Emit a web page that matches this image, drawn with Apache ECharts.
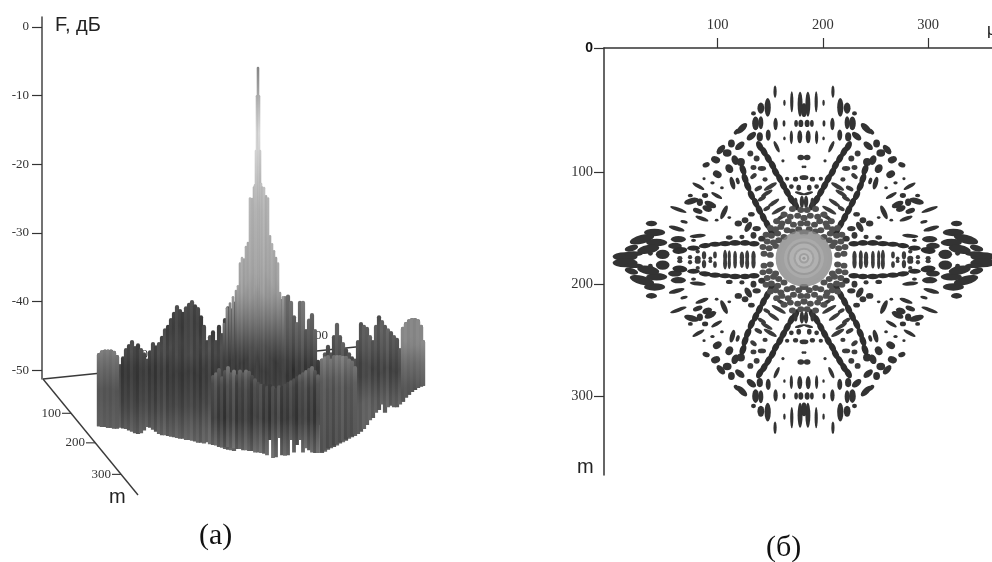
<!DOCTYPE html>
<html><head><meta charset="utf-8">
<style>html,body{margin:0;background:#fff}#c{width:992px;height:562px;filter:blur(.5px)}</style>
<script src="https://cdn.jsdelivr.net/npm/echarts@6/dist/echarts.min.js"></script></head>
<body><div id="c"></div>
<script>
// ---------- panel (а): relief, columns as seen in the picture (scene x, F in dB)
const fTicks=[0,-10,-20,-30,-40,-50];
const leftX=[99,102,105,108,111,114,117,120,123,126,129,132,135,138,141,144,147,150,153,156,159,162,165,168,171,174,177,180,183,186,189,192,195,198,201,204,207,210,213,216,219,222,225,228,231,234];
const leftTop=[-47.5,-47.1,-47,-47,-47,-47.2,-47.8,-49.1,-48,-46.8,-46.2,-45.6,-46.5,-46.1,-46.8,-47.4,-48.3,-47.1,-45.9,-46.4,-45.9,-45,-43.9,-43.4,-42.4,-41.5,-40.5,-41.1,-41.5,-40.7,-40.2,-39.8,-40.4,-40.8,-42,-43.4,-45.6,-44.9,-44.2,-45.6,-43.4,-44.6,-42.4,-40.7,-41,-40];
const leftBot=[-58.2,-58.3,-58.3,-58.4,-58.4,-58.5,-58.5,-58.4,-58.5,-58.6,-58.8,-59,-59.2,-59.3,-59.2,-58.8,-58.3,-58.4,-58.7,-59,-59.3,-59.5,-59.5,-59.6,-59.7,-59.8,-59.9,-60,-60,-60.2,-60.2,-60.3,-60.4,-60.6,-60.6,-60.7,-60.5,-60.8,-60.9,-61,-61.2,-61.3,-61.5,-61.6,-61.7,-61.8];
const blockX=[99,102,105,108,111,114,117];
const blockTop=[-47.5,-47.1,-47,-47,-47,-47.2,-47.8];
const blockBot=[-58.2,-58.3,-58.3,-58.4,-58.4,-58.5,-58.5];
const rightX=[322,325,328,331,334,337,340,343,346,349,352,355,358,361,364,367,370,373,376,379,382,385,388,391,394,397,400,403,406,409,412,415,418,421,423];
const rightTop=[-48.3,-47.4,-46.3,-47.4,-44.9,-43.1,-44.9,-45.9,-46.8,-47.4,-48,-48.3,-45.6,-43,-43.4,-43.7,-44.9,-45.6,-43.4,-42,-42.7,-43.4,-43.9,-44.3,-44.9,-45.3,-46.8,-43.7,-43,-42.6,-42.4,-42.4,-42.6,-43.4,-45.6];
const rightBot=[-62.1,-61.9,-61.6,-61.4,-61.2,-61,-60.7,-60.5,-60.3,-60,-59.8,-59.6,-59.3,-59,-58.6,-58,-57.3,-57,-56.2,-55.8,-55,-56.2,-55.4,-55.2,-55.4,-55.4,-55,-54.6,-54,-53.6,-53.2,-52.9,-52.6,-52.4,-52.3];
const cornerX=[403,406,409,412,415,418,421,423];
const cornerTop=[-43.7,-43,-42.6,-42.4,-42.4,-42.6,-43.4,-45.6];
const cornerBot=[-54.6,-54,-53.6,-53.2,-52.9,-52.6,-52.4,-52.3];
const midX=[322,325,328,331,334,337,340,343,346,349,352,355];
const midTop=[-48.3,-48,-47.8,-48.3,-47.8,-47.8,-47.8,-47.9,-47.9,-48.3,-48.6,-49.4];
const midBot=[-61.9,-61.7,-61.4,-61.2,-61,-60.8,-60.5,-60.3,-60.1,-59.8,-59.6,-59.4];
const ridgeX=[282,285,288,291,294,297,300,303,306,309,312,315,318];
const ridgeTop=[-39.6,-39.2,-39,-39.9,-42,-43,-39.9,-39.9,-44,-42.5,-41.7,-44,-48.5];
const peakX=[224,227,230,233,236,238,240,242,244,246,248,250,252,254,255,256,257,258,259,260,261,262,264,266,268,270,272,274,276,278,280,283];
const peakTop=[-43.1,-40.8,-40.1,-39.2,-38.3,-37.6,-34.3,-33.5,-33.7,-31.9,-31.3,-24.8,-24.9,-23.2,-22.9,-17.9,-9.9,-5.8,-9.9,-17.9,-22.7,-23.2,-23.3,-24.5,-24.8,-30.3,-31.5,-32.5,-33.5,-34.3,-38.6,-39.2];
const frontX=[213,216,219,222,225,228,231,234,237,240,243,246,249,252,255,258,261,264,267,270,273,276,279,282,285,288,291,294,297,300,303,306,309,312,315,318];
const frontTop=[-50.7,-50.3,-49.7,-50.9,-50,-49.4,-50.3,-49.9,-50.6,-49.9,-50.3,-49.9,-50.1,-50.7,-51.2,-51.7,-52,-52,-52.3,-52,-52.3,-52.6,-52.2,-52.3,-52,-51.7,-51.5,-51.2,-50.9,-50.6,-50.3,-50,-49.7,-49.4,-50,-50.6];
const frontBot=[-60.9,-60.9,-61.1,-61.1,-61.2,-61.2,-61.4,-61.4,-61.5,-61.5,-61.7,-61.7,-61.8,-61.8,-62,-62,-62.1,-62.2,-62.4,-60.2,-62.8,-62.7,-59.9,-62.4,-62.5,-62.4,-60.2,-62,-60.9,-60.2,-62,-61.4,-61.7,-62,-62.1,-62.1];
const mAxisEnds=[[43,-51.3],[138,-68.2]];
const muAxisEnds=[[43,-51.3],[358,-46.6]];
const mTickX=[71,95,121], mTickF=[-56.3,-60.6,-65.2], mTickText=['100','200','300'];
const muTickX=[148,328], muTickF=[-47.7,-45], muTickText=['100','300'];
// ---------- panel (б): lobes of the upper-left quadrant [μ, m, extent μ, extent m, tilt°]
const muTicks=[100,200,300], mTicks=[100,200,300];
const centre=[182,178.3];
const outerLobes=[[154.5,28.3,1.6,9,0],[170.4,37.3,1.6,16,0],[178.3,39.4,3,19,0],[181.5,44.7,3,10,0],[163.4,38.2,1,4,0],[147.5,42.3,4,14,0],[141,43,4.5,8,0],[134,47.7,3,2.5,0],[155,57.2,2.5,9,0],[163,56.6,1.3,4,0],[174.5,56.6,2,4.5,0],[179,56.6,3,5,0],[136,56.6,4.5,10,0],[141,56,3,9.5,0],[123,61,10,4,45],[118,64,4.5,2.5,45],[170,69,1.6,10,0],[178,68.6,3,9.5,0],[163.4,70,1,2,0],[148,67,3,8,0],[140,68.6,4,6.5,0],[132,68,8,4,40],[121,76.6,8,4,40],[113,74.5,4.5,5.5,0],[103,80,8,4,50],[109,83,6,5,0],[98,89,6.5,4.5,-20],[116.5,89.4,4.5,7,20],[122,91,5.5,5.5,0],[111,97,5,6.5,30],[89,93.6,5,3,20],[99.6,102,6.5,4.5,-30],[87,106,1.6,1.3,0],[81.6,112.7,10,2,-30],[95,109.7,2.5,1.5,0],[104,114,2,1.5,0],[114,110,3,9.5,15],[119,108,2,4.5,15],[99,121,9,2,-30],[74,121,3,2,0],[75,126,11,4,15],[88,121,4,3,0],[83,127,4,5,0],[93,129,9,4,-25],[81,134.7,7,3,-20],[90,132.6,7,4,-20],[62.6,133.5,13,2,-20],[106,136,3,11,-25],[85,141.6,10,2.2,-20],[68,144.5,5,1.5,-15],[61,150.5,12,2.5,-15],[99,143,2,1.3,0],[111,140.7,2,1.3,0]];
const tipLobes=[[37,146,8,3.5,0],[40,154,16,5,0],[28,160,19,6,15],[42,163,16,5,0],[62.6,160,11,4,0],[81,157,12,2.2,5],[77,161,3,1.6,0],[59.4,166,10,4,0],[18,168,10,4,15],[34,169,17,6,10],[47.7,173.5,10,6.5,0],[12,175.5,19,6,0],[20,173,14,3,0],[36,172.5,3,3,0]];
const horizRidge=[[64,170,11,4.5,5],[77,168,9,3.2,0],[88,165.7,9,3.2,5],[97.5,164.5,9,3.2,0],[107,164,9,3.2,0],[116.5,163.3,9,3.5,0],[126,163.3,8,3.5,0],[134.5,164,8,3.5,0]];
const stripLobes=[[87,174.4,2.5,5.7,0],[107,175,2.2,8.9,0],[111,175,1.6,8.2,0],[116.5,175.5,2,8.2,0],[123,176,2.5,8.2,0],[128,175,2.2,8.2,0],[134,175.5,2.5,8.2,0],[97.4,174,2,4.4,0],[81,177,3.8,3.2,0],[73.7,176,2.5,2.5,0],[64,177,3.2,2.5,0],[93,177,2,2,0],[81,171,2.5,2,0]];
const ridgeInner=[[140,77,4,8,28],[144,82,4,8,28],[148,88,4,8,28],[152,94,4,8,28],[155,100,4,8,28],[159,106,4,8,28],[162.4,112,4,8,28],[166,118,4,8,28],[170,124.6,4,8,28],[174,129.6,4,8,28]];
const ridgeOuter=[[124,98,4,8,20],[126,106,4,8,20],[128.5,112.7,4,8,25],[132,120.7,4,8,25],[136,127.5,4,8,25],[139.6,134,4,8,25],[143.4,140.7,4,8,25],[147,146.6,4,8,25],[151,153,4,8,25]];
const hatchLobes=[[150,113,11,2.5,30],[146.6,119,9.5,2.2,30],[153,127.5,10,2.2,35],[158,134,12,2.2,30],[161,140,9.5,2.2,30],[138.6,114.7,5.7,2.5,30],[142,123.7,6.3,2.2,30],[146.6,132.6,5,2.2,30],[134,103.7,5,2.5,40],[142,96.9,5.7,3,0],[134,96,3.8,3,0],[145,106.7,3.2,2.5,0],[137,88,3.8,3.8,0],[131,83.5,3.8,3.8,0]];
const innerLobes=[[156,77.5,2,9,25],[162,90,1.6,1.6,0],[179,87,4.4,3.5,0],[181,95.4,1.3,1.3,0],[166,106,2.5,2.2,0],[174,106.4,3.2,2.8,0],[181,105,4.4,2.8,0],[170,113,2.8,2.8,0],[177,114,2.8,3.8,0],[178,119,7,1.3,-15],[174,127.5,2.2,7,0],[180,126.7,2.5,8.9,0],[126,143,4.4,3.8,0],[132,137.7,4.4,2.8,0],[119.6,146,5,3.8,0],[129,149,3.8,8,-30],[137,150.5,5.7,3.2,0],[123,158,3.2,2.5,0],[111,158.5,4.4,2.5,0],[134,156.5,3.8,4.4,0],[142,159.5,5,3.8,0]];
const coreMu=[171,179,163,169,176,182,156,161,167,172,179,150,155,160,166,171,177,181,146,151,157,163,147,153,158,143,149,155,144,150];
const coreM=[133,134,138,140,139,141,144,146,144,147,146,150,151,149,152,153,151,154,156,157,155,158,162,163,161,167,168,166,173,174];
const discCentre=[182,177];
const ringRadius=[27,23,19,16,14,10,8,5,3,1.5];
const ringGray=[135,160,172,150,182,158,190,152,198,142];

const chart=echarts.init(document.getElementById('c'),null,{renderer:'canvas'});
const serif='"Liberation Serif"', sans='"Liberation Sans"';
const streak=[0,12,-9,5,-14,9,-4,16,-11,3,-7,10,-3,-13,7];
const palPeak=[[-5,130],[-10,170],[-15,215],[-20,205],[-24,180],[-30,172],[-38,160],[-42,125],[-46,85],[-49,58],[-53,66],[-60,85]];
const palLeft=[[-39,76],[-44,64],[-47,76],[-50,58],[-55,70],[-60,100]];
const palBlock=[[-46,135],[-49,108],[-53,84],[-60,98]];
const palRight=[[-42,84],[-44,94],[-47,84],[-50,66],[-55,96]];
const palMid=[[-47.8,122],[-52,88],[-60,80]];
const palRidge=[[-39,112],[-43,100],[-47,78],[-50,54],[-55,70]];
const palFront=[[-49,118],[-52,74],[-57,62],[-62,104]];
function grayAt(p,d){
  if(d>=p[0][0])return p[0][1];
  for(let i=1;i<p.length;i++){if(d>=p[i][0]){const t=(d-p[i-1][0])/(p[i][0]-p[i-1][0]);return p[i-1][1]+t*(p[i][1]-p[i-1][1]);}}
  return p[p.length-1][1];
}
function relief(name,xs,tops,bots,pal,w,amp){
  return {type:'custom',name,xAxisIndex:0,yAxisIndex:0,silent:true,animation:false,clip:false,z:5,
    data:xs.map((x,i)=>[x,tops[i],Array.isArray(bots)?bots[i]:bots,i]),
    renderItem(params,api){
      const x=api.value(0),t=api.value(1),b=api.value(2),i=api.value(3);
      const a=api.coord([x,t]),c=api.coord([x,b]),wp=api.size([w,0])[0],s=streak[i%streak.length]*amp,stops=[];
      for(let k=0;k<=8;k++){const v=Math.max(0,Math.min(255,Math.round(grayAt(pal,t+(b-t)*k/8)+s)));stops.push({offset:k/8,color:`rgb(${v},${v},${v})`});}
      return {type:'rect',shape:{x:a[0]-wp/2,y:a[1],width:wp,height:c[1]-a[1],r:[wp/2,wp/2,0,0]},
        style:{fill:new echarts.graphic.LinearGradient(0,0,0,1,stops)}};
    }};
}
function sceneTicks(xs,fs,texts,tick){
  return {type:'custom',xAxisIndex:0,yAxisIndex:0,silent:true,animation:false,clip:false,z:2,
    data:xs.map((x,i)=>[x,fs[i],i]),
    renderItem(params,api){
      const x=api.value(0),f=api.value(1),p=api.coord([x,f]),tx=texts[api.value(2)],ch=[];
      if(tick)ch.push({type:'line',shape:{x1:p[0]-9,y1:p[1],x2:p[0],y2:p[1]},style:{stroke:'#444',lineWidth:1.2}});
      ch.push({type:'text',style:{text:tx,x:p[0]-(tick?10:0),y:p[1],fill:'#333',font:`13px ${serif}`,textAlign:'right',textVerticalAlign:'middle'}});
      return {type:'group',children:ch};
    }};
}
function axisLine(ends){return {type:'line',xAxisIndex:0,yAxisIndex:0,data:ends,symbol:'none',silent:true,animation:false,clip:false,z:2,lineStyle:{color:'#3a3a3a',width:1.4}};}
function mirrored(list){
  const out=[];
  for(const [mu,m,w,h,a] of list){
    const mu2=2*centre[0]-mu,m2=2*centre[1]-m;
    out.push([mu,m,w,h,a],[mu2,m,w,h,-a],[mu,m2,w,h,-a],[mu2,m2,w,h,a]);
  }
  return out;
}
function lobeSeries(list,color){
  return {type:'scatter',xAxisIndex:1,yAxisIndex:1,silent:true,animation:false,clip:false,z:3,symbol:'circle',
    itemStyle:{color,opacity:1},
    data:mirrored(list).map(v=>({value:v,symbolSize:[v[2]*1.25+1.2,v[3]*1.25+1.2],symbolRotate:v[4]}))};
}
const coreLobes=coreMu.map((mu,i)=>[mu,coreM[i],4.6,3.8,0]);
const ax={axisLine:{onZero:false,lineStyle:{color:'#333',width:1.5}},axisTick:{lineStyle:{color:'#333',width:1.2}},splitLine:{show:false}};
chart.setOption({
  backgroundColor:'#fff',animation:false,
  grid:[{left:42,top:17,width:398,height:362},{left:604,top:48,width:388,height:427}],
  xAxis:[
    {type:'value',gridIndex:0,min:42,max:440,show:false},
    {type:'value',gridIndex:1,position:'top',min:-8.08,max:360.7,...ax,
      axisTick:{...ax.axisTick,length:10,customValues:muTicks},
      axisLabel:{customValues:muTicks,margin:15,fontFamily:serif,fontSize:14.5,color:'#333'}}
  ],
  yAxis:[
    {type:'value',gridIndex:0,min:-51.3,max:1.45,...ax,
      axisLine:{onZero:false,lineStyle:{color:'#444',width:1.5}},
      axisTick:{...ax.axisTick,length:10,customValues:fTicks},
      axisLabel:{customValues:fTicks,margin:13,fontFamily:serif,fontSize:13,color:'#333'}},
    {type:'value',gridIndex:1,inverse:true,min:-10.7,max:370.5,...ax,
      axisTick:{...ax.axisTick,length:10,customValues:[-10.7].concat(mTicks)},
      axisLabel:{customValues:[-10.7].concat(mTicks),margin:11,fontFamily:serif,fontSize:14.5,color:'#333',
        formatter:v=>v<0?'{z|0}':String(v),rich:{z:{fontFamily:sans,fontWeight:'bold',fontSize:14,color:'#111'}}}}
  ],
  title:[
    {text:'F, дБ',left:55,top:15,textStyle:{fontFamily:sans,fontSize:20,fontWeight:'normal',color:'#222'},padding:0},
    {text:'m',left:109,top:487,textStyle:{fontFamily:sans,fontSize:20,fontWeight:'normal',color:'#222'},padding:0},
    {text:'m',left:577,top:457,textStyle:{fontFamily:sans,fontSize:20,fontWeight:'normal',color:'#222'},padding:0},
    {text:'μ',left:987,top:22,textStyle:{fontFamily:sans,fontSize:17,fontWeight:'normal',color:'#222'},padding:0},
    {text:'(а)',left:199,top:521,textStyle:{fontFamily:serif,fontSize:30,fontWeight:'normal',color:'#111'},padding:0},
    {text:'(б)',left:766,top:533,textStyle:{fontFamily:serif,fontSize:30,fontWeight:'normal',color:'#111'},padding:0}
  ],
  series:[
    axisLine(mAxisEnds),axisLine(muAxisEnds),
    sceneTicks(mTickX,mTickF,mTickText,true),
    sceneTicks(muTickX,muTickF,muTickText,false),
    relief('left',leftX,leftTop,leftBot,palLeft,4.2,.7),
    relief('block',blockX,blockTop,blockBot,palBlock,4.2,.3),
    relief('right',rightX,rightTop,rightBot,palRight,4.2,.7),
    relief('corner',cornerX,cornerTop,cornerBot,palBlock,4.2,.3),
    relief('ridge',ridgeX,ridgeTop,-58,palRidge,4.2,.7),
    relief('peak',peakX,peakTop,-54,palPeak,2.6,.5),
    relief('mid',midX,midTop,midBot,palMid,4.2,.7),
    relief('front',frontX,frontTop,frontBot,palFront,3.8,1.1),
    lobeSeries(outerLobes,'#333'),
    lobeSeries(tipLobes,'#333'),
    lobeSeries(horizRidge,'#2e2e2e'),
    lobeSeries(stripLobes,'#3c3c3c'),
    lobeSeries(ridgeInner,'#2e2e2e'),
    lobeSeries(ridgeOuter,'#2e2e2e'),
    lobeSeries(hatchLobes,'#3c3c3c'),
    lobeSeries(innerLobes,'#363636'),
    lobeSeries(coreLobes,'#505050'),
    {type:'scatter',xAxisIndex:1,yAxisIndex:1,silent:true,animation:false,z:4,symbol:'circle',
      data:ringRadius.map((r,i)=>({value:discCentre,symbolSize:2*r*1.05,
        itemStyle:{color:`rgb(${ringGray[i]},${ringGray[i]},${ringGray[i]})`}}))}
  ]
});
</script></body></html>
